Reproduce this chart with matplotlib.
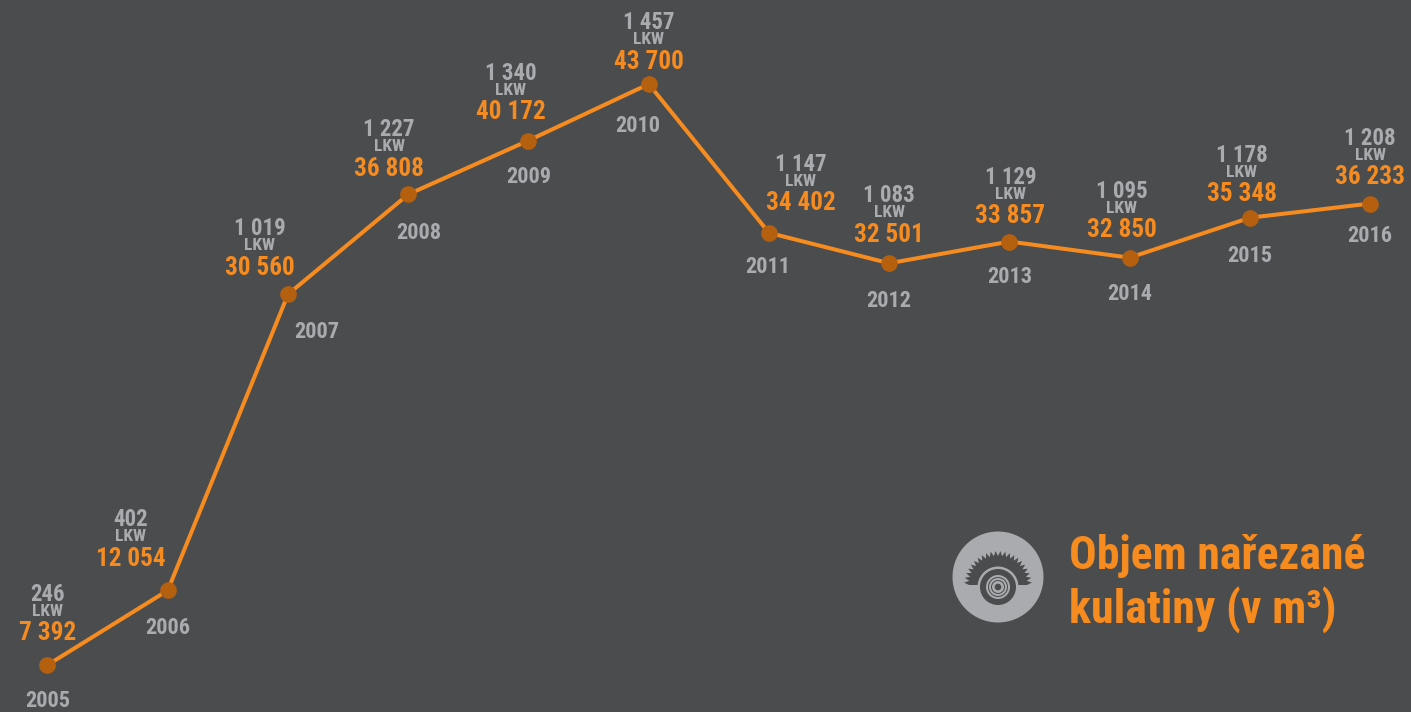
import numpy as np
import matplotlib
matplotlib.use('Agg')
import matplotlib.pyplot as plt
from matplotlib.patches import Circle, Polygon

years = [2005, 2006, 2007, 2008, 2009, 2010, 2011, 2012, 2013, 2014, 2015, 2016]
volume = [7392, 12054, 30560, 36808, 40172, 43700, 34402, 32501, 33857, 32850, 35348, 36233]
trucks = [246, 402, 1019, 1227, 1340, 1457, 1147, 1083, 1129, 1095, 1178, 1208]
title_lines = ['Objem nařezané', 'kulatiny (v m³)']

# label offsets from each point, in pixels
label_dx = [0, -37, -28, -19, -18, 0, 32, 0, 1, -8, -8, 0]
label_dy = [34, 34, 29, 28, 31, 25, 32, 31, 28, 30, 26, 29]
year_dx = [0, 0, 29, 11, 0, -11, -1, 0, 0, 0, 0, 0]
year_dy = [-34, -35, -35, -36, -34, -39, -32, -35, -33, -34, -36, -30]

bg = '#4b4c4e'
orange = '#f68b1f'
dark_orange = '#b5600f'
grey = '#a9abae'
fonts = ['Roboto Condensed', 'Barlow Condensed', 'Liberation Sans', 'DejaVu Sans']

fig = plt.figure(figsize=(14.11, 7.12), dpi=100, facecolor=bg)
ax = fig.add_axes([0, 0, 1, 1])
ax.set_facecolor(bg)
ax.plot(years, volume, color=orange, lw=2.9, zorder=2)
ax.plot(years, volume, 'o', color=dark_orange, ms=12, mew=0, zorder=3)
ax.set_xlim(2004.605, 2016.339)
ax.set_ylim(4454, 48954)
ax.axis('off')


def fmt(v):
    s = str(v)
    if len(s) > 3:
        return s[:-3] + ' ' + s[-3:]
    return s


for i in range(len(years)):
    xy = (years[i], volume[i])
    dx = label_dx[i]
    dy = label_dy[i]
    ax.annotate(fmt(volume[i]), xy, xytext=(dx, dy), textcoords='offset pixels', ha='center', va='center_baseline',
                color=orange, fontsize=18.2, fontweight='bold', family=fonts)
    ax.annotate('LKW', xy, xytext=(dx, dy + 21), textcoords='offset pixels', ha='center', va='center_baseline',
                color=grey, fontsize=12.5, fontweight='bold', family=fonts)
    ax.annotate(fmt(trucks[i]), xy, xytext=(dx, dy + 39), textcoords='offset pixels', ha='center',
                va='center_baseline', color=grey, fontsize=16.5, fontweight='bold', family=fonts)
    ax.annotate(str(years[i]), xy, xytext=(year_dx[i], year_dy[i]), textcoords='offset pixels', ha='center',
                va='center_baseline', color=grey, fontsize=16, fontweight='bold', family=fonts)

# overlay in pixel coordinates for the saw icon and the title
ov = fig.add_axes([0, 0, 1, 1])
ov.set_xlim(0, 1411)
ov.set_ylim(712, 0)
ov.axis('off')
ov.patch.set_alpha(0)

ov.add_patch(Circle((998, 577), 45.5, color=grey, lw=0))

# saw blade, half circle with teeth
n_teeth = 22
ang = np.linspace(np.pi, 0, 2 * n_teeth + 1)
rad = np.where(np.arange(2 * n_teeth + 1) % 2 == 0, 29, 34)
blade = np.column_stack([998 + rad * np.cos(ang), 585 - rad * np.sin(ang)])
blade = np.vstack([[966, 585], blade, [1030, 585]])
ov.add_patch(Polygon(blade, color=bg, lw=0))

# log rings
ring_radii = [20.5, 18, 12, 10, 9, 7, 6, 3.3]
ring_colors = [grey, bg, grey, bg, grey, bg, grey, bg]
for r, c in zip(ring_radii, ring_colors):
    ov.add_patch(Circle((998, 587), r, color=c, lw=0))

ov.text(1069, 552, title_lines[0], color=orange, fontsize=33, fontweight='bold', family=fonts,
        va='center_baseline', ha='left')
ov.text(1069, 604, title_lines[1], color=orange, fontsize=33, fontweight='bold', family=fonts,
        va='center_baseline', ha='left')

plt.savefig('out.png', facecolor=bg)
